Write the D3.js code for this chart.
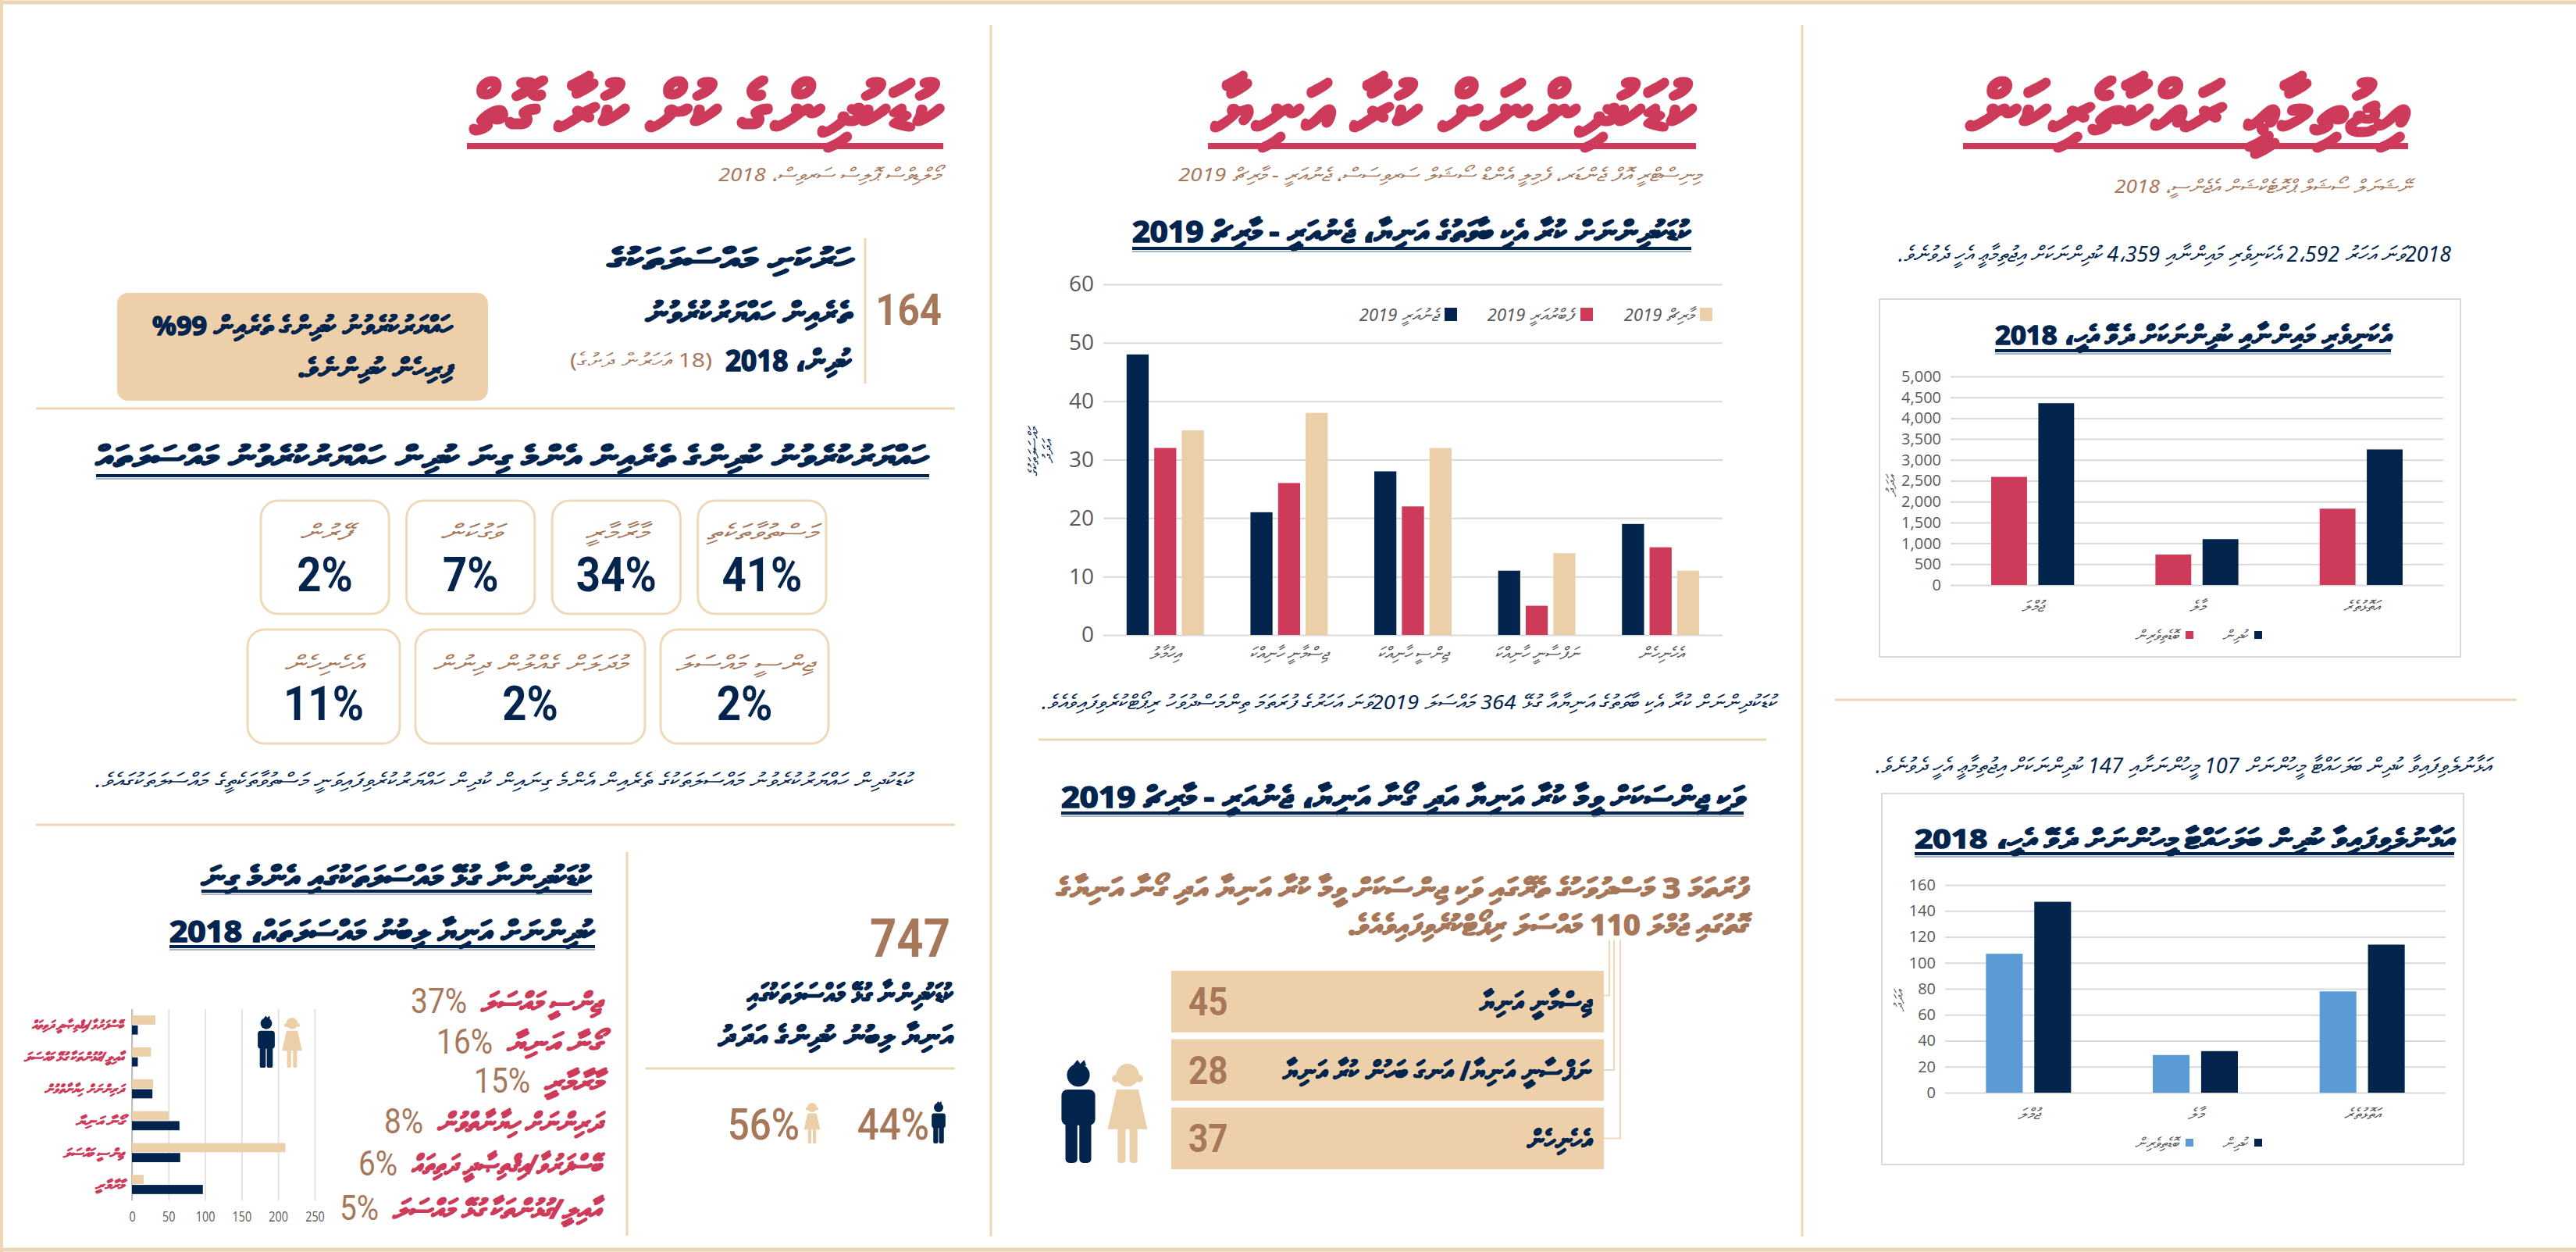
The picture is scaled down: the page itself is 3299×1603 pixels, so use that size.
<!DOCTYPE html>
<html>
<head>
<meta charset="utf-8">
<script src="https://cdn.jsdelivr.net/npm/d3@7"></script>
<style>
  body { margin: 0; background: #fff; }
  svg text { font-family: 'Noto Sans', 'DejaVu Sans', sans-serif; }
  .num { font-family: 'Roboto', 'Liberation Sans', sans-serif; }
  .tick text { font-family: 'Open Sans', sans-serif; fill: #595959; }
</style>
</head>
<body>
<svg id="page" width="3299" height="1603"></svg>
<script>
// ---- data ----
// left column: children arrested (Maldives Police Service 2018)
const arrestTotal = 164
const arrestMalePct = 99
const arrestTopCats = ['މަސްތުވާތަކެތި', 'މާރާމާރީ', 'ވަގުކަން', 'ފޭރުން']
const arrestTopPct = [41, 34, 7, 2]
const arrestLowCats = ['ޖިންސީ މައްސަލަ', 'މުދަލަށް ގެއްލުން ދިނުން', 'އެހެނިހެން']
const arrestLowPct = [2, 2, 11]

// left column: child victims by case type, 2018
const victimCats = ['ބޭސްފަރުވާ/އިޤްތިޞާދީ ދަތިތައް', 'އާއިލީ/ގުޅުންތަކާ ގުޅޭ މައްސަލަ', 'ދަރިންނަށް ހިޔާނާތްވުން', 'ގޯނާ އަނިޔާ', 'ޖިންސީ މައްސަލަ', 'މާރާމާރީ']
const victimGirls = [32, 26, 29, 50, 210, 16]
const victimBoys = [8, 8, 28, 65, 66, 97]
const victimTicks = [0, 50, 100, 150, 200, 250]
const victimShareCats = ['ޖިންސީ މައްސަލަ', 'ގޯނާ އަނިޔާ', 'މާރާމާރީ', 'ދަރިންނަށް ހިޔާނާތްވުން', 'ބޭސްފަރުވާ/އިޤްތިޞާދީ ދަތިތައް', 'އާއިލީ/ގުޅުންތަކާ ގުޅޭ މައްސަލަ']
const victimSharePct = [37, 16, 15, 8, 6, 5]
const victimTotal = 747
const victimGirlPct = 56
const victimBoyPct = 44

// middle column: violence against children, Jan - Mar 2019
const abuseCats = ['އިހުމާލު', 'ޖިސްމާނީ ހާނިއްކަ', 'ޖިންސީ ހާނިއްކަ', 'ނަފްސާނީ ހާނިއްކަ', 'އެހެނިހެން']
const abuseMonths = ['ޖެނުއަރީ 2019', 'ފެބްރުއަރީ 2019', 'މާރިޗް 2019']
const abuseJan = [48, 21, 28, 11, 19]
const abuseFeb = [32, 26, 22, 5, 15]
const abuseMar = [35, 38, 32, 14, 11]
const abuseTicks = [0, 10, 20, 30, 40, 50, 60]
const abuseTotal = 364

const gbvCats = ['ޖިސްމާނީ އަނިޔާ', 'ނަފްސާނީ އަނިޔާ/ އަނގަ ބަހުން ކުރާ އަނިޔާ', 'އެހެނިހެން']
const gbvValues = [45, 28, 37]
const gbvTotal = 110

// right column: social protection, NSPA 2018
const regionCats = ['ޖުމްލަ', 'މާލެ', 'އަތޮޅުތެރެ']
const singleParents = [2592, 730, 1830]
const singleParentKids = [4359, 1100, 3250]
const singleParentTicks = d3.range(0, 5001, 500)
const fosterCarers = [107, 29, 78]
const fosterKids = [147, 32, 114]
const fosterTicks = d3.range(0, 161, 20)

// ---- colours ----
const NAVY = '#02244d', RED = '#ce3b5a', BEIGE = '#ebcfa8', BROWN = '#a7775a'
const LINE = '#eed6b4', GRID = '#d9d9d9', GREY = '#595959', BLUE = '#5b9bd5'

const svg = d3.select('#page')

// Thaana text, right-aligned by default (anchor 'start' in rtl); o.w fits the width
function rtl (g, str, x, y, o) {
  o = o || {}
  const size = o.size || 24
  const t = g.append('text')
    .attr('x', x).attr('y', y)
    .attr('direction', 'rtl')
    .attr('text-anchor', o.anchor || 'start')
    .attr('dominant-baseline', 'central')
    .attr('font-size', size)
    .attr('font-weight', o.weight || 400)
    .attr('font-style', o.italic ? 'italic' : 'normal')
    .attr('fill', o.color || NAVY)
    .text(str)
  if (o.w) t.attr('textLength', o.w).attr('lengthAdjust', 'spacingAndGlyphs')
  // the Thaana face is light, thicken bold runs a little
  if (o.weight >= 700) {
    t.attr('stroke', o.color || NAVY).attr('stroke-width', size * 0.045)
      .attr('stroke-linejoin', 'round')
  }
  return t
}

// condensed figures
function num (g, str, x, y, size, color, anchor, weight) {
  return g.append('text').attr('class', 'num')
    .attr('transform', `translate(${x},${y}) scale(0.88,1)`)
    .attr('text-anchor', anchor || 'start')
    .attr('dominant-baseline', 'central')
    .attr('font-size', size).attr('fill', color)
    .attr('font-weight', weight || 700)
    .text(str)
}

function hline (x1, x2, y, color, w) {
  svg.append('line').attr('x1', x1).attr('x2', x2).attr('y1', y).attr('y2', y)
    .attr('stroke', color).attr('stroke-width', w)
}
function vline (x, y1, y2, color, w) {
  svg.append('line').attr('x1', x).attr('x2', x).attr('y1', y1).attr('y2', y2)
    .attr('stroke', color).attr('stroke-width', w)
}

// big red title with underline
function bigTitle (str, x1, x2, y, uy) {
  rtl(svg, str, x2, y, { size: 92, weight: 700, color: RED, w: x2 - x1 })
  hline(x1 - 6, x2, uy, RED, 8)
}
// navy chart title with underline
function chartTitle (str, x1, x2, y, uy, size) {
  rtl(svg, str, x2, y, { size: size || 34, weight: 700, color: NAVY, w: x2 - x1 })
  hline(x1, x2, uy, NAVY, 4)
  hline(x1, x2, uy + 4, '#8a9bb3', 1.5)
}

// simple child pictograms
function person (g, kind, cx, top, h, color) {
  const p = g.append('g').attr('fill', color)
  const r = h * 0.115
  p.append('circle').attr('cx', cx).attr('cy', top + r).attr('r', r)
  if (kind === 'boy') {
    p.append('rect').attr('x', cx - h * 0.17).attr('y', top + h * 0.26)
      .attr('width', h * 0.34).attr('height', h * 0.36).attr('rx', h * 0.06)
    p.append('rect').attr('x', cx - h * 0.13).attr('y', top + h * 0.55)
      .attr('width', h * 0.12).attr('height', h * 0.45).attr('rx', h * 0.04)
    p.append('rect').attr('x', cx + h * 0.01).attr('y', top + h * 0.55)
      .attr('width', h * 0.12).attr('height', h * 0.45).attr('rx', h * 0.04)
    p.append('path').attr('d', `M${cx - h * 0.05},${top + h * 0.01} l${h * 0.04},${-h * 0.05} l${h * 0.03},${h * 0.04} l${h * 0.04},${-h * 0.04} l${h * 0.02},${h * 0.06}z`)
  } else {
    p.append('circle').attr('cx', cx - r * 1.05).attr('cy', top + r * 1.3).attr('r', r * 0.32)
    p.append('circle').attr('cx', cx + r * 1.05).attr('cy', top + r * 1.3).attr('r', r * 0.32)
    p.append('path').attr('d', `M${cx - h * 0.11},${top + h * 0.26} L${cx + h * 0.11},${top + h * 0.26} L${cx + h * 0.2},${top + h * 0.66} L${cx - h * 0.2},${top + h * 0.66}Z`)
    p.append('rect').attr('x', cx - h * 0.1).attr('y', top + h * 0.62)
      .attr('width', h * 0.08).attr('height', h * 0.38).attr('rx', h * 0.03)
    p.append('rect').attr('x', cx + h * 0.02).attr('y', top + h * 0.62)
      .attr('width', h * 0.08).attr('height', h * 0.38).attr('rx', h * 0.03)
  }
}

// vertical grouped bar chart
function groupedBars (cfg) {
  const g = svg.append('g')
  const x0 = d3.scaleBand().domain(cfg.cats).range(cfg.xr)
    .paddingInner(cfg.pad).paddingOuter(cfg.pad / 2)
  const keys = cfg.series.map((s, i) => i)
  const x1 = d3.scaleBand().domain(keys).range([0, x0.bandwidth()]).paddingInner(cfg.inner)
  const y = d3.scaleLinear().domain(cfg.domain).range(cfg.yr)

  const axis = d3.axisLeft(y).tickValues(cfg.ticks).tickSize(-(cfg.xr[1] - cfg.xr[0]))
    .tickPadding(12).tickFormat(cfg.fmt || d3.format('d'))
  const ax = g.append('g').attr('transform', `translate(${cfg.xr[0]},0)`).call(axis)
  ax.select('.domain').remove()
  ax.selectAll('.tick line').attr('stroke', GRID).attr('stroke-width', 2)
  ax.selectAll('.tick text').attr('font-size', cfg.tickSize)

  cfg.cats.forEach((c, ci) => {
    const grp = g.append('g').attr('transform', `translate(${x0(c)},0)`)
    grp.selectAll('rect').data(cfg.series.map(s => s[ci]))
      .join('rect')
      .attr('x', (d, i) => x1(i))
      .attr('width', x1.bandwidth())
      .attr('y', d => y(d))
      .attr('height', d => y(0) - y(d))
      .attr('fill', (d, i) => cfg.colors[i])
    rtl(g, c, x0(c) + x0.bandwidth() / 2, cfg.yr[0] + cfg.labelGap,
      { size: cfg.labelSize, italic: true, color: GREY, anchor: 'middle' })
  })
  return { g, x0, y }
}

// ---- page frame ----
hline(0, 3299, 3, LINE, 5)
hline(0, 3299, 1600, LINE, 5)
vline(2, 0, 1603, LINE, 4)
vline(1269, 32, 1583, LINE, 3)
vline(2308, 32, 1583, LINE, 3)

// =============== RIGHT COLUMN ===============
bigTitle('އިޖުތިމާޢީ ރައްކާތެރިކަން', 2520, 3084, 136, 187)
rtl(svg, 'ނޭޝަނަލް ސޯޝަލް ޕްރޮޓެކްޝަން އެޖެންސީ، 2018', 3088, 237, { size: 24, italic: true, color: BROWN, w: 380 })
rtl(svg, '2018ވަނަ އަހަރު 2،592 އެކަނިވެރި މައިންނާއި 4،359 ކުދިންނަކަށް އިޖުތިމާޢީ އެހީ ދެވުނެވެ.', 3139, 324,
  { size: 28, italic: true, color: NAVY, w: 708 })

svg.append('rect').attr('x', 2407).attr('y', 383).attr('width', 744).attr('height', 458)
  .attr('fill', 'none').attr('stroke', GRID).attr('stroke-width', 2)
chartTitle('އެކަނިވެރި މައިންނާއި ކުދިންނަކަށް ދެވޭ އެހީ، 2018', 2555, 3062, 428, 449, 34)
groupedBars({
  cats: regionCats, series: [singleParents, singleParentKids], colors: [RED, NAVY],
  xr: [2498, 3129], yr: [749, 482], domain: [0, 5000], ticks: singleParentTicks,
  fmt: d3.format(','), pad: 0.495, inner: 0.24, tickSize: 20, labelSize: 20, labelGap: 26
})
rtl(svg, 'އަދަދު', 0, 0, { size: 17, italic: true, color: GREY, anchor: 'middle' })
  .attr('transform', 'translate(2421,622) rotate(-90)')
svg.append('rect').attr('x', 2887).attr('y', 808).attr('width', 10).attr('height', 10).attr('fill', NAVY)
rtl(svg, 'ކުދިން', 2878, 813, { size: 19, italic: true, color: GREY })
svg.append('rect').attr('x', 2799).attr('y', 808).attr('width', 10).attr('height', 10).attr('fill', RED)
rtl(svg, 'ބޮޑެތިވެރިން', 2790, 813, { size: 19, italic: true, color: GREY })

hline(2350, 3223, 896, LINE, 3)
rtl(svg, 'އަޅާނުލެވިފައިވާ ކުދިން ބަލަހައްޓާ މީހުންނަށް 107 މީހުންނަށާއި 147 ކުދިންނަކަށް އިޖުތިމާޢީ އެހީ ދެވުނެވެ.', 3190, 979,
  { size: 28, italic: true, color: NAVY, w: 788 })

svg.append('rect').attr('x', 2410).attr('y', 1016).attr('width', 745).attr('height', 475)
  .attr('fill', 'none').attr('stroke', GRID).attr('stroke-width', 2)
chartTitle('އަޅާނުލެވިފައިވާ ކުދިން ބަލަހައްޓާ މީހުންނަށް ދެވޭ އެހީ، 2018', 2452, 3143, 1073, 1093, 34)
groupedBars({
  cats: regionCats, series: [fosterCarers, fosterKids], colors: [BLUE, NAVY],
  xr: [2491, 3132], yr: [1399, 1133], domain: [0, 160], ticks: fosterTicks,
  pad: 0.49, inner: 0.24, tickSize: 20, labelSize: 20, labelGap: 26
})
rtl(svg, 'އަދަދު', 0, 0, { size: 17, italic: true, color: GREY, anchor: 'middle' })
  .attr('transform', 'translate(2431,1281) rotate(-90)')
svg.append('rect').attr('x', 2887).attr('y', 1458).attr('width', 10).attr('height', 10).attr('fill', NAVY)
rtl(svg, 'ކުދިން', 2878, 1463, { size: 19, italic: true, color: GREY })
svg.append('rect').attr('x', 2799).attr('y', 1458).attr('width', 10).attr('height', 10).attr('fill', BLUE)
rtl(svg, 'ބޮޑެތިވެރިން', 2790, 1463, { size: 19, italic: true, color: GREY })

// =============== MIDDLE COLUMN ===============
bigTitle('ކުޑަކުދިންނަށް ކުރާ އަނިޔާ', 1553, 2172, 136, 187)
rtl(svg, 'މިނިސްޓްރީ އޮފް ޖެންޑަރ، ފެމިލީ އެންޑް ސޯޝަލް ސަރވިސަސް، ޖެނުއަރީ - މާރިޗް 2019', 2179, 222,
  { size: 24, italic: true, color: BROWN, w: 670 })
chartTitle('ކުޑަކުދިންނަށް ކުރާ އެކި ބާވަތުގެ އަނިޔާ، ޖެނުއަރީ - މާރިޗް 2019', 1450, 2166, 295, 318, 38)

groupedBars({
  cats: abuseCats, series: [abuseJan, abuseFeb, abuseMar], colors: [NAVY, RED, BEIGE],
  xr: [1413, 2206], yr: [813, 364], domain: [0, 60], ticks: abuseTicks,
  pad: 0.376, inner: 0.2, tickSize: 28, labelSize: 22, labelGap: 22
})
rtl(svg, 'މައްސަލަތަކުގެ', 0, 0, { size: 18, italic: true, color: NAVY, anchor: 'middle' })
  .attr('transform', 'translate(1323,578) rotate(-90)')
rtl(svg, 'އަދަދު', 0, 0, { size: 18, italic: true, color: NAVY, anchor: 'middle' })
  .attr('transform', 'translate(1341,578) rotate(-90)')

// legend, right to left
const legendColors = [NAVY, RED, BEIGE]
const legendX = [1850, 2024, 2177]
abuseMonths.forEach((m, i) => {
  svg.append('rect').attr('x', legendX[i]).attr('y', 394).attr('width', 16).attr('height', 17).attr('fill', legendColors[i])
  rtl(svg, m, legendX[i] - 8, 402, { size: 22, italic: true, color: GREY })
})

rtl(svg, `ކުޑަކުދިންނަށް ކުރާ އެކި ބާވަތުގެ އަނިޔާއާ ގުޅޭ ${abuseTotal} މައްސަލަ 2019ވަނަ އަހަރުގެ ފުރަތަމަ ތިންމަސްދުވަހު ރިޕޯޓްކުރެވިފައިވެއެވެ.`,
  2275, 898, { size: 26, italic: true, color: NAVY, w: 941 })

hline(1330, 2262, 947, LINE, 3)
chartTitle('ވަކި ޖިންސަކަށް ވީމާ ކުރާ އަނިޔާ އަދި ގޯނާ އަނިޔާ، ޖެނުއަރީ - މާރިޗް 2019', 1359, 2233, 1019, 1041, 38)
rtl(svg, 'ފުރަތަމަ 3 މަސްދުވަހުގެ ތެރޭގައި ވަކި ޖިންސަކަށް ވީމާ ކުރާ އަނިޔާ އަދި ގޯނާ އަނިޔާގެ', 2239, 1136,
  { size: 36, weight: 700, color: BROWN, w: 886 })
rtl(svg, `ގޮތުގައި ޖުމްލަ ${gbvTotal} މައްސަލަ ރިޕޯޓްކުރެވިފައިވެއެވެ.`, 2239, 1183,
  { size: 36, weight: 700, color: BROWN, w: 513 })

const gy = d3.scaleBand().domain(gbvCats).range([1243, 1497]).paddingInner(0.1)
const connX = [2061, 2067, 2075]
const gbvLabelW = [143, 395, 82]
gbvCats.forEach((c, i) => {
  const yMid = gy(c) + gy.bandwidth() / 2
  svg.append('rect').attr('x', 1500).attr('y', gy(c)).attr('width', 554).attr('height', gy.bandwidth())
    .attr('fill', '#edcfa9')
  num(svg, gbvValues[i], 1522, yMid, 50, BROWN)
  rtl(svg, c, 2038, yMid, { size: 34, weight: 700, color: NAVY, w: gbvLabelW[i] })
  svg.append('path')
    .attr('d', `M${connX[i]},1203 V${yMid + (i === 0 ? -8 : 0)} H2054`)
    .attr('fill', 'none').attr('stroke', '#f0d9b8').attr('stroke-width', 2)
})
person(svg, 'boy', 1381, 1362, 127, NAVY)
person(svg, 'girl', 1444, 1362, 127, BEIGE)

// =============== LEFT COLUMN ===============
bigTitle('ކުޑަކުދިންގެ ކުށް ކުރާ ގޮތް', 604, 1208, 136, 187)
rtl(svg, 'މޯލްޑިވްސް ޕޮލިސް ސަރވިސް، 2018', 1204, 222, { size: 24, italic: true, color: BROWN, w: 284 })

num(svg, arrestTotal, 1206, 397, 56, BROWN, 'end')
vline(1108, 305, 491, LINE, 3)
rtl(svg, 'ހަރުކަށި މައްސަލަތަކުގެ', 1091, 330, { size: 38, weight: 700, w: 313 })
rtl(svg, 'ތެރެއިން ހައްޔަރުކުރެވުނު', 1091, 399, { size: 38, weight: 700, w: 264 })
rtl(svg, 'ކުދިން، 2018', 1091, 460, { size: 38, weight: 700, w: 162 })
rtl(svg, '(18 އަހަރުން ދަށުގެ)', 912, 460, { size: 26, color: BROWN, w: 182 })

svg.append('rect').attr('x', 150).attr('y', 375).attr('width', 475).attr('height', 138)
  .attr('rx', 14).attr('fill', '#edcfa9')
rtl(svg, `ހައްޔަރުކުރެވުނު ކުދިންގެ ތެރެއިން ${arrestMalePct}%`, 580, 416, { size: 34, weight: 700, w: 385 })
rtl(svg, 'ފިރިހެން ކުދިންނެވެ.', 580, 470, { size: 34, weight: 700, w: 199 })

hline(46, 1223, 523, LINE, 3)
chartTitle('ހައްޔަރުކުރެވުނު ކުދިންގެ ތެރެއިން އެންމެ ގިނަ ކުދިން ހައްޔަރުކުރެވުނު މައްސަލަތައް', 123, 1190, 583, 609, 38)

// boxes: first row right to left
const rowTop = d3.scaleBand().domain(arrestTopCats).range([1058, 334]).paddingInner(0.12)
const topLabelW = [142, 81, 77, 65]
arrestTopCats.forEach((c, i) => {
  const w = rowTop.bandwidth()
  const x = rowTop(c) - w
  svg.append('rect').attr('x', x + w).attr('y', 641).attr('width', w).attr('height', 145)
    .attr('rx', 22).attr('fill', '#fff').attr('stroke', '#efd9ba').attr('stroke-width', 3)
  rtl(svg, c, x + w * 1.5, 680, { size: 28, italic: true, color: BROWN, anchor: 'middle', w: topLabelW[i] })
  num(svg, arrestTopPct[i] + '%', x + w * 1.5, 736, 62, NAVY, 'middle')
})
const lowWidths = [215, 294, 195]
const lowLabelW = [178, 251, 101]
let lx = 1061
arrestLowCats.forEach((c, i) => {
  const w = lowWidths[i]
  lx -= w
  svg.append('rect').attr('x', lx).attr('y', 806).attr('width', w).attr('height', 146)
    .attr('rx', 22).attr('fill', '#fff').attr('stroke', '#efd9ba').attr('stroke-width', 3)
  rtl(svg, c, lx + w / 2, 848, { size: 28, italic: true, color: BROWN, anchor: 'middle', w: lowLabelW[i] })
  num(svg, arrestLowPct[i] + '%', lx + w / 2, 901, 62, NAVY, 'middle')
  lx -= 20
})
rtl(svg, 'ކުޑަކުދިން ހައްޔަރުކުރެވުނު މައްސަލަތަކުގެ ތެރެއިން އެންމެ ގިނައިން ކުދިން ހައްޔަރުކުރެވިފައިވަނީ މަސްތުވާތަކެތީގެ މައްސަލަތަކުގައެވެ.',
  1168, 998, { size: 26, italic: true, color: NAVY, w: 1046 })

hline(46, 1223, 1056, LINE, 3)

// child victims
chartTitle('ކުޑަކުދިންނާ ގުޅޭ މައްސަލަތަކުގައި އެންމެ ގިނަ', 258, 758, 1121, 1141, 38)
chartTitle('ކުދިންނަށް އަނިޔާ ލިބުނު މައްސަލަތައް، 2018', 217, 762, 1191, 1212, 38)

const vx = d3.scaleLinear().domain([0, 250]).range([169, 403])
const vy = d3.scaleBand().domain(victimCats).range([1292, 1537]).paddingInner(0.4).paddingOuter(0.2)
const vy1 = d3.scaleBand().domain(['girls', 'boys']).range([0, vy.bandwidth()]).paddingInner(0.08)
const vAxis = svg.append('g').attr('transform', 'translate(0,1537)')
  .call(d3.axisBottom(vx).tickValues(victimTicks).tickSize(-245).tickPadding(14))
vAxis.select('.domain').remove()
vAxis.selectAll('.tick line').attr('stroke', '#e3e3e3').attr('stroke-width', 2)
vAxis.selectAll('.tick text').attr('font-size', 18)
  .attr('transform', 'scale(0.8,1)').attr('x', 0).attr('text-anchor', 'middle')
vline(169, 1292, 1537, '#bfbfbf', 2)
const catLabelW = [117, 127, 101, 61, 77, 36]
victimCats.forEach((c, i) => {
  svg.append('rect').attr('x', vx(0)).attr('y', vy(c) + vy1('girls'))
    .attr('width', vx(victimGirls[i]) - vx(0)).attr('height', vy1.bandwidth()).attr('fill', BEIGE)
  svg.append('rect').attr('x', vx(0)).attr('y', vy(c) + vy1('boys'))
    .attr('width', vx(victimBoys[i]) - vx(0)).attr('height', vy1.bandwidth()).attr('fill', NAVY)
  rtl(svg, c, 158, vy(c) + vy.bandwidth() / 2, { size: 16, weight: 700, italic: true, color: RED, w: catLabelW[i] })
})
person(svg, 'boy', 341, 1303, 64, NAVY)
person(svg, 'girl', 374, 1303, 64, BEIGE)

const shareY = [1282, 1334, 1384, 1436, 1490, 1547]
const shareLabelW = [154, 121, 73, 210, 243, 267]
victimShareCats.forEach((c, i) => {
  rtl(svg, c, 770, shareY[i], { size: 34, weight: 700, italic: true, color: RED, w: shareLabelW[i] })
  num(svg, victimSharePct[i] + '%', 770 - shareLabelW[i] - 18, shareY[i], 44, BROWN, 'end', 400)
})

vline(803, 1091, 1582, LINE, 3)
num(svg, victimTotal, 1217, 1202, 68, BROWN, 'end')
rtl(svg, 'ކުޑަކުދިންނާ ގުޅޭ މައްސަލަތަކުގައި', 1221, 1271, { size: 36, weight: 700, w: 264 })
rtl(svg, 'އަނިޔާ ލިބުނު ކުދިންގެ އަދަދު', 1221, 1325, { size: 36, weight: 700, w: 301 })
hline(827, 1223, 1368, LINE, 3)
num(svg, victimGirlPct + '%', 1024, 1440, 56, BROWN, 'end', 500)
person(svg, 'girl', 1040, 1412, 52, BEIGE)
num(svg, victimBoyPct + '%', 1190, 1440, 56, BROWN, 'end', 500)
person(svg, 'boy', 1202, 1412, 52, NAVY)
</script>
</body>
</html>
